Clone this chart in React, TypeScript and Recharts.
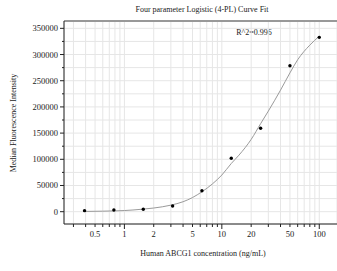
import React from 'react';
import {
  ComposedChart,
  Line,
  Scatter,
  XAxis,
  YAxis,
  CartesianGrid,
  ReferenceLine,
} from 'recharts';

// Measured standards (ng/mL vs MFI)
const concentrations = [0.39, 0.78, 1.5625, 3.125, 6.25, 12.5, 25, 50, 100];
const mfiValues = [2000, 3200, 4600, 10900, 40000, 101900, 159200, 278600, 332800];

// Fitted 4-PL curve
const curveX = [0.39, 0.6, 0.78, 1, 1.5, 2, 3, 4, 5, 6.25, 8, 10, 12.5, 15, 20, 25, 30, 40, 50, 60, 80, 100];
const curveY = [500, 1000, 1500, 2200, 4600, 7000, 12500, 19000, 27000, 38000, 53000, 70000, 92000, 108000, 138000, 168000, 192000, 232000, 265000, 290000, 318000, 335000];

const xTicks = [0.3, 0.4, 0.5, 0.6, 0.7, 0.8, 0.9, 1, 2, 3, 4, 5, 6, 7, 8, 9, 10, 20, 30, 40, 50, 60, 70, 80, 90, 100];
const xLabels = [0.5, 1, 2, 5, 10, 20, 50, 100];
const yTicks = [0, 25000, 50000, 75000, 100000, 125000, 150000, 175000, 200000, 225000, 250000, 275000, 300000, 325000, 350000];

const points = concentrations.map((x, i) => ({ x, y: mfiValues[i] }));
const curve = curveX.map((x, i) => ({ x, y: curveY[i] }));

const FONT = '"Liberation Serif", "Times New Roman", serif';
const INK = '#1a1a1a';

const XTick = (props: any) => {
  const { x, y, payload } = props;
  const v = payload.value;
  const labeled = xLabels.includes(v);
  const major = [1, 10, 100].includes(v);
  return (
    <g>
      <line x1={x} x2={x} y1={y} y2={y + (major ? 5 : 3)} stroke="#222" strokeWidth={1} />
      {labeled && (
        <text x={x} y={y + 13} textAnchor="middle" fontSize={8.5} fontFamily={FONT} fill={INK}>
          {v}
        </text>
      )}
    </g>
  );
};

const YTick = (props: any) => {
  const { x, y, payload } = props;
  const v = payload.value;
  const major = v % 50000 === 0;
  return (
    <g>
      <line x1={x} x2={x - (major ? 4 : 2)} y1={y} y2={y} stroke="#222" strokeWidth={1} />
      {major && (
        <text x={x - 6} y={y + 3} textAnchor="end" fontSize={8.5} fontFamily={FONT} fill={INK}>
          {v}
        </text>
      )}
    </g>
  );
};

const Dot = (props: any) => {
  const { cx, cy } = props;
  return <circle cx={cx} cy={cy} r={1.7} fill="#000" />;
};

export default function App() {
  return (
    <div style={{ position: 'absolute', left: 0, top: 0, width: 337, height: 271, background: '#fff', fontFamily: FONT, color: INK }}>
      <div style={{ position: 'absolute', left: 0, width: 404, top: 5, textAlign: 'center', fontSize: 8 }}>
        Four parameter Logistic (4-PL) Curve Fit
      </div>
      <div style={{ position: 'absolute', left: 204, width: 100, top: 28, textAlign: 'center', fontSize: 8 }}>
        R^2=0.996
      </div>
      <div style={{ position: 'absolute', left: 0, width: 406, top: 249, textAlign: 'center', fontSize: 8 }}>
        Human ABCG1 concentration (ng/mL)
      </div>
      <div
        style={{
          position: 'absolute',
          left: 13,
          top: 123,
          transform: 'translate(-50%, -50%) rotate(-90deg)',
          whiteSpace: 'nowrap',
          fontSize: 8,
        }}
      >
        Median Fluorescence Intensity
      </div>
      <ComposedChart
        width={337}
        height={271}
        margin={{ top: 21, right: 0, left: 0, bottom: 0 }}
        style={{ position: 'absolute', left: 0, top: 0 }}
      >
        <CartesianGrid stroke="#e6e6e6" strokeWidth={1} />
        <XAxis
          dataKey="x"
          type="number"
          scale="log"
          domain={[0.24, 152]}
          ticks={xTicks}
          interval={0}
          allowDataOverflow
          height={47}
          tickSize={0}
          tickMargin={0}
          tickLine={false}
          axisLine={{ stroke: '#222', strokeWidth: 1 }}
          tick={<XTick />}
        />
        <YAxis
          type="number"
          domain={[-23500, 364000]}
          ticks={yTicks}
          interval={0}
          allowDataOverflow
          width={64}
          tickSize={0}
          tickMargin={0}
          tickLine={false}
          axisLine={{ stroke: '#222', strokeWidth: 1 }}
          tick={<YTick />}
        />
        <ReferenceLine y={364000} stroke="#999" strokeWidth={2} />
        <Line
          data={curve}
          dataKey="y"
          type="monotone"
          stroke="#9a9a9a"
          strokeWidth={1}
          dot={false}
          isAnimationActive={false}
        />
        <Scatter data={points} dataKey="y" shape={<Dot />} isAnimationActive={false} />
      </ComposedChart>
    </div>
  );
}
